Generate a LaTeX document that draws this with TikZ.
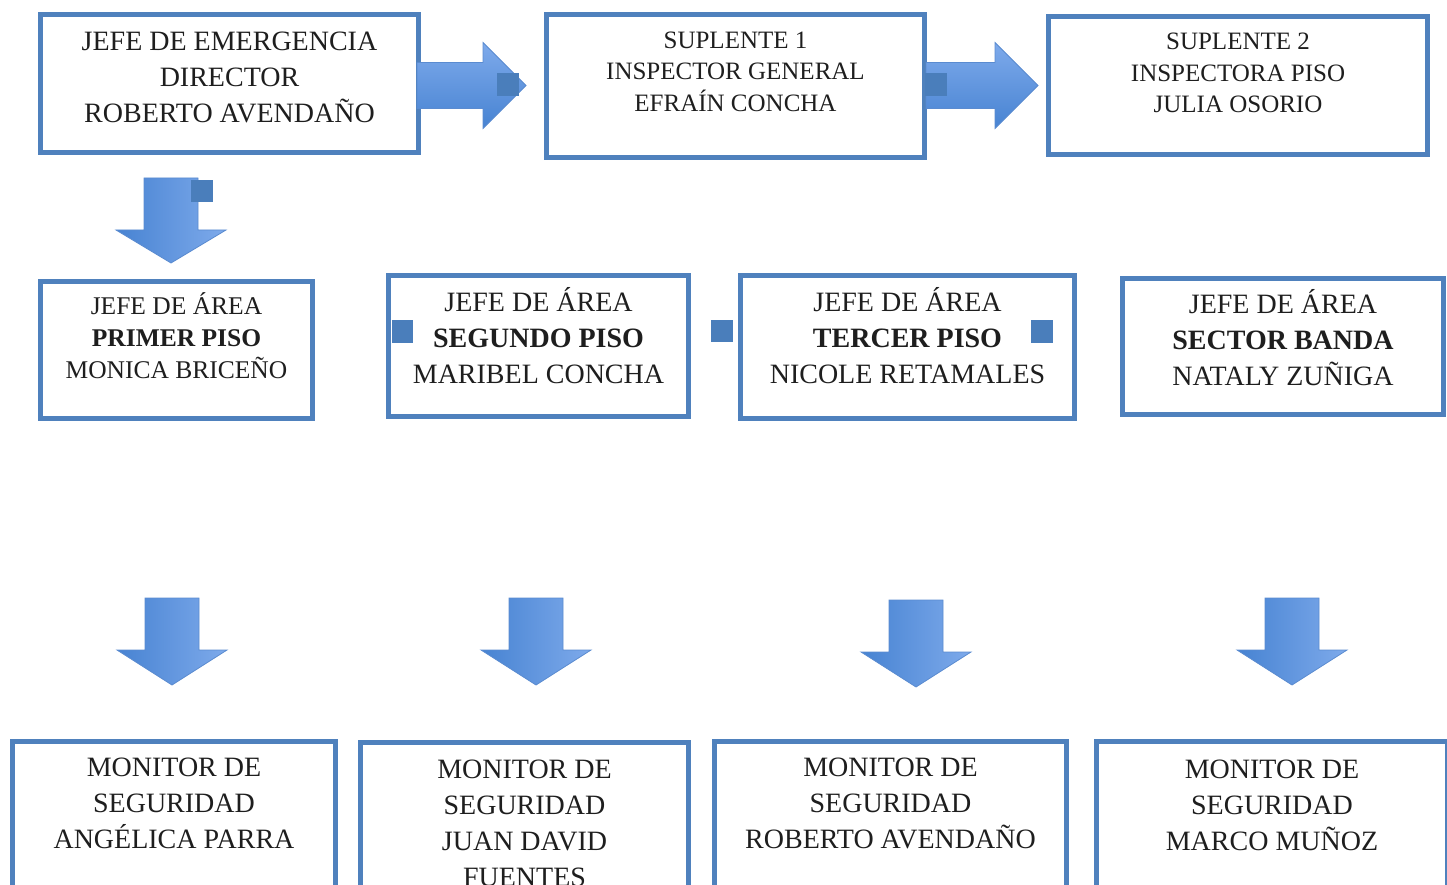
\documentclass[tikz,border=0pt]{standalone}
\usepackage{fontspec}
\setmainfont{Liberation Serif}
\definecolor{boxblue}{HTML}{4F81BD}
\definecolor{sqblue}{HTML}{4A7EBB}
\definecolor{arrlight}{HTML}{7EAAEB}
\definecolor{arrdark}{HTML}{4783D2}
\definecolor{arredge}{HTML}{5A8BD0}
\definecolor{txtcol}{HTML}{1E1E1E}
\tikzset{
  box/.style={draw=boxblue, line width=5pt, fill=white, inner sep=0pt, rectangle},
  txt/.style={anchor=north, inner sep=0pt, align=center, text=txtcol},
  big/.style={font=\fontsize{28}{36}\selectfont},
  mid/.style={font=\fontsize{25}{31.5}\selectfont},
  sq/.style={fill=sqblue, draw=none},
  rarr/.style={draw=arredge, line width=0.8pt, top color=arrlight, bottom color=arrdark},
  darr/.style={draw=arredge, line width=0.8pt, left color=arrdark, right color=arrlight}
}
% right arrow: x0, xhead, xtip, yc
\newcommand\rightblock[4]{%
  \path[rarr] (#1,#4-23) -- (#2,#4-23) -- (#2,#4-43) -- (#3,#4) -- (#2,#4+43) -- (#2,#4+23) -- (#1,#4+23) -- cycle;}
% down arrow: xc, y0, yhead, ytip
\newcommand\downblock[4]{%
  \path[darr] (#1-27,#2) -- (#1+27,#2) -- (#1+27,#3) -- (#1+55,#3) -- (#1,#4) -- (#1-55,#3) -- (#1-27,#3) -- cycle;}
\begin{document}
\begin{tikzpicture}[x=1pt,y=-1pt]
\useasboundingbox (0,0) rectangle (1447,885);
\clip (0,0) rectangle (1447,885);
% top row
\node[box, minimum width=378pt, minimum height=138pt] (b1) at (229.5,83.5) {};
\node[box, minimum width=378pt, minimum height=143pt] (b2) at (735.5,86) {};
\node[box, minimum width=379pt, minimum height=138pt] (b3) at (1238,85.5) {};
% middle row
\node[box, minimum width=272pt, minimum height=137pt] (m1) at (176.5,350) {};
\node[box, minimum width=300pt, minimum height=141pt] (m2) at (538.5,346) {};
\node[box, minimum width=334pt, minimum height=143pt] (m3) at (907.5,347) {};
\node[box, minimum width=321pt, minimum height=136pt] (m4) at (1283,346.5) {};
% bottom row
\node[box, minimum width=323pt, minimum height=161pt] (l1) at (174,822) {};
\node[box, minimum width=328pt, minimum height=160pt] (l2) at (524.5,822.5) {};
\node[box, minimum width=352pt, minimum height=161pt] (l3) at (890.5,822) {};
\node[box, minimum width=351pt, minimum height=161pt] (l4) at (1272,822) {};
% texts
\node[txt, big] (tb1) at (229.5,25) {\strut JEFE DE EMERGENCIA\\DIRECTOR\\ROBERTO AVENDAÑO};
\node[txt, mid] (tb2) at (735.5,26) {\strut SUPLENTE 1\\INSPECTOR GENERAL\\EFRAÍN CONCHA};
\node[txt, mid] (tb3) at (1238,27.5) {\strut SUPLENTE 2\\INSPECTORA PISO\\JULIA OSORIO};
\node[txt, font=\fontsize{25.5}{32}\selectfont] (tm1) at (176.5,292) {\strut JEFE DE ÁREA\\\textbf{PRIMER PISO}\\MONICA BRICEÑO};
\node[txt, big] (tm2) at (538.5,286) {\strut JEFE DE ÁREA\\\textbf{SEGUNDO PISO}\\MARIBEL CONCHA};
\node[txt, big] (tm3) at (907.5,286) {\strut JEFE DE ÁREA\\\textbf{TERCER PISO}\\NICOLE RETAMALES};
\node[txt, big] (tm4) at (1283,288) {\strut JEFE DE ÁREA\\\textbf{SECTOR BANDA}\\NATALY ZUÑIGA};
\node[txt, big] (tl1) at (174,751) {\strut MONITOR DE\\SEGURIDAD\\ANGÉLICA PARRA};
\node[txt, big] (tl2) at (524.5,753) {\strut MONITOR DE\\SEGURIDAD\\JUAN DAVID\\FUENTES};
\node[txt, big] (tl3) at (890.5,751) {\strut MONITOR DE\\SEGURIDAD\\ROBERTO AVENDAÑO};
\node[txt, big] (tl4) at (1272,753) {\strut MONITOR DE\\SEGURIDAD\\MARCO MUÑOZ};
% block arrows
\rightblock{417}{483}{526}{85.5}
\rightblock{926}{995}{1038}{85.5}
\downblock{171}{178}{230}{263}
\downblock{172}{598}{650}{685}
\downblock{536}{598}{650}{685}
\downblock{916}{600}{652}{687}
\downblock{1292}{598}{650}{685}
% small squares
\path[sq] (497,73) rectangle (519,96);
\path[sq] (925,73) rectangle (947,96);
\path[sq] (191,180) rectangle (213,202);
\path[sq] (392,320) rectangle (413,343);
\path[sq] (711,320) rectangle (733,342);
\path[sq] (1031,320) rectangle (1053,343);
\end{tikzpicture}
\end{document}
